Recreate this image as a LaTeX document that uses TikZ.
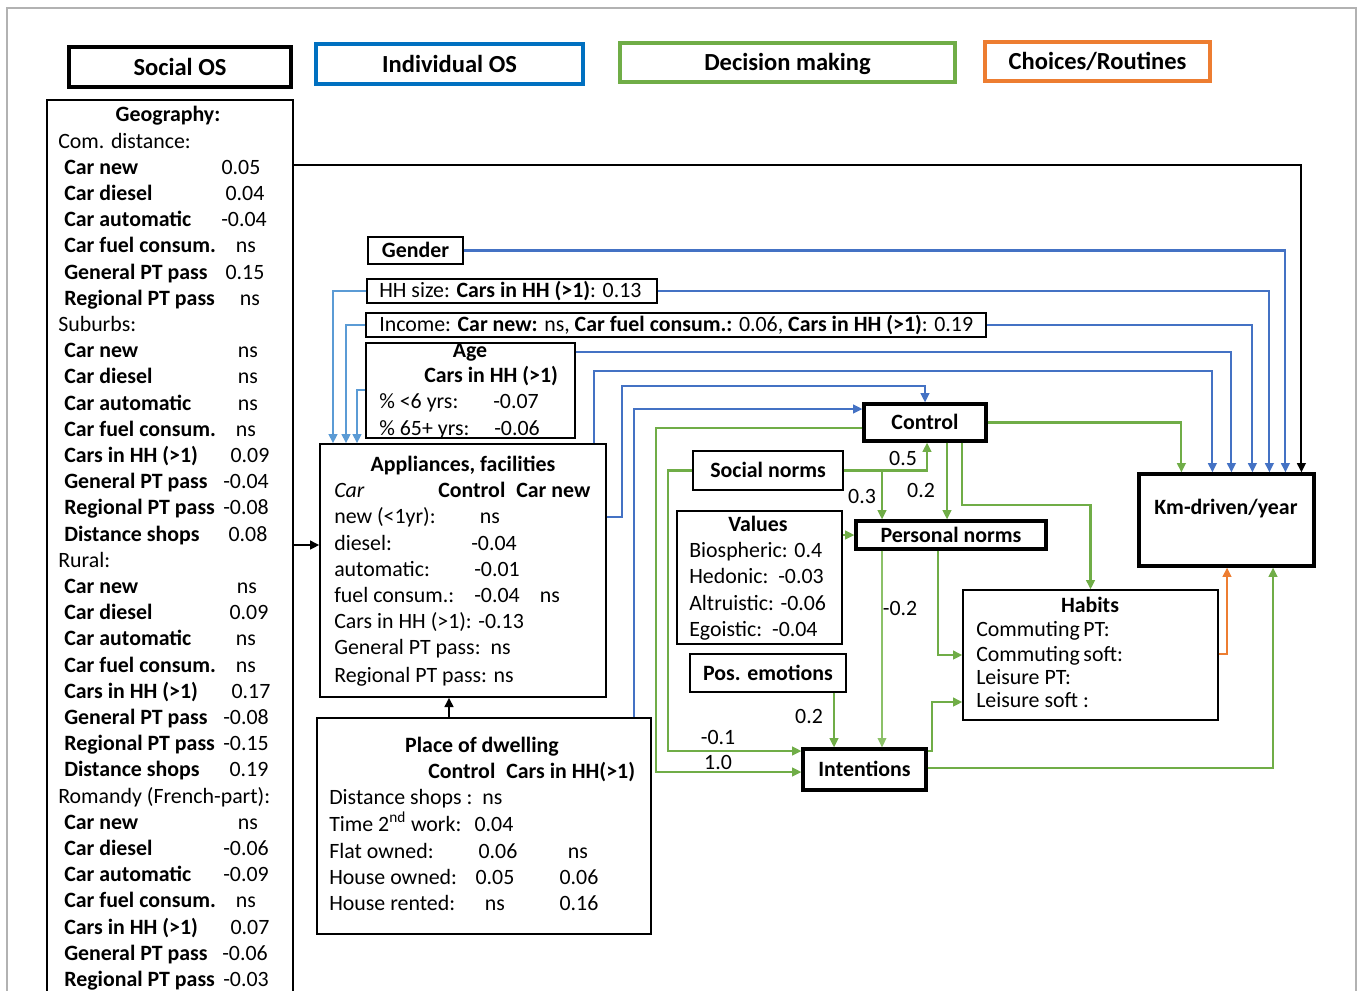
\documentclass[tikz,border=0pt]{standalone}
\usepackage{fontspec}
\setmainfont{Carlito}
\usetikzlibrary{calc,arrows.meta,fit}
\definecolor{cblue}{HTML}{4472C4}
\definecolor{lblue}{HTML}{5B9BD5}
\definecolor{legblue}{HTML}{0070C0}
\definecolor{cgreen}{HTML}{70AD47}
\definecolor{lgreen}{HTML}{8CC168}
\definecolor{corange}{HTML}{ED7D31}
\tikzset{
  bx/.style={draw, line width=1pt, inner sep=0pt, rectangle},
  tbx/.style={draw, line width=2.4pt, inner sep=0pt, rectangle},
  leg/.style={draw, line width=2.6pt, inner sep=0pt, rectangle},
  ctr/.style={anchor=base, inner sep=0pt, font=\fontsize{16.4}{19.7}\selectfont\bfseries},
  legt/.style={anchor=base, inner sep=0pt, font=\fontsize{18.4}{22}\selectfont\bfseries},
  tx/.style={anchor=base west, inner sep=0pt},
  tc/.style={anchor=base, inner sep=0pt},
  lbl/.style={inner sep=0pt},
  con/.style={line width=1.6pt, -{Triangle[length=7pt,width=6.5pt]}},
}
\begin{document}
\begin{tikzpicture}[x=0.75pt,y=-0.75pt,font=\fontsize{16.4}{19.7}\selectfont]
\useasboundingbox (0,0) rectangle (1358,990);
\draw[gray!60, line width=1pt] (7,1000) -- (7,8) -- (1356,8) -- (1356,1000);

% legend
\node[leg, fit={(69,47)(291,87)}] (lsoc) {};
\node[legt] (lsoct) at ($(lsoc.center)+(0,8)$) {Social OS};
\node[leg, draw=legblue, fit={(316,44)(583,84)}] (lind) {};
\node[legt] (lindt) at ($(lind.center)+(0,8)$) {Individual OS};
\node[leg, draw=cgreen, fit={(620,43)(955,82)}] (ldec) {};
\node[legt] (ldect) at ($(ldec.center)+(0,8)$) {Decision making};
\node[leg, draw=corange, fit={(985,42)(1210,81)}] (lcho) {};
\node[legt] (lchot) at ($(lcho.center)+(0,8)$) {Choices/Routines};

% geography
\node[bx, fit={(47,100)(293,1012)}] (geo) {};
\node[tc] (geot) at (168,121) {\bfseries Geography:};
\foreach \i/\lab in {0/Com. distance:,7/Suburbs:,16/Rural:,25/Romandy (French-part):}
  \node[tx] (gh\i) at (58,{148+26.2*\i}) {\lab};
\foreach \i/\lab/\val/\vx in {
  1/Car new/0.05/241, 2/Car diesel/0.04/245, 3/Car automatic/-0.04/244, 4/Car fuel consum./ns/246, 5/General PT pass/0.15/245, 6/Regional PT pass/ns/250,
  8/Car new/ns/248, 9/Car diesel/ns/248, 10/Car automatic/ns/248, 11/Car fuel consum./ns/246, 12/Cars in HH (>1)/0.09/250, 13/General PT pass/-0.04/246, 14/Regional PT pass/-0.08/246, 15/Distance shops/0.08/248,
  17/Car new/ns/247, 18/Car diesel/0.09/249, 19/Car automatic/ns/246, 20/Car fuel consum./ns/246, 21/Cars in HH (>1)/0.17/251, 22/General PT pass/-0.08/246, 23/Regional PT pass/-0.15/246, 24/Distance shops/0.19/249,
  26/Car new/ns/248, 27/Car diesel/-0.06/246, 28/Car automatic/-0.09/246, 29/Car fuel consum./ns/246, 30/Cars in HH (>1)/0.07/250, 31/General PT pass/-0.06/245, 32/Regional PT pass/-0.03/246}
{
  \node[tx] (gl\i) at (64,{148+26.2*\i}) {\bfseries \lab};
  \node[tc] (gv\i) at (\vx,{148+26.2*\i}) {\val};
}

% individual OS boxes
\node[bx, fit={(368,237)(463,264)}] (gender) {};
\node[ctr] (gendert) at ($(gender.center)+(0,7)$) {Gender};
\node[bx, fit={(367,279)(657,303)}] (hh) {};
\node[tx] (hht) at (379,297) {HH size: \textbf{Cars in HH (>1)}: 0.13};
\node[bx, fit={(366,313)(986,337)}] (inc) {};
\node[tx] (inct) at (379,331) {Income: \textbf{Car new:} ns, \textbf{Car fuel consum.:} 0.06, \textbf{Cars in HH (>1)}: 0.19};
\node[bx, fit={(366,343)(575,438)}] (age) {};
\node[tc] (aget) at (470,357) {\bfseries Age};
\node[tx] (agec) at (424,382) {\bfseries Cars in HH (>1)};
\node[tx] (age1) at (379,408) {\% <6 yrs:};
\node[tc] (age1v) at (516,408) {-0.07};
\node[tx] (age2) at (379,435) {\% 65+ yrs:};
\node[tc] (age2v) at (517,435) {-0.06};

% appliances
\node[bx, fit={(320,444)(606,697)}] (app) {};
\node[tc] (appt) at (463,471) {\bfseries Appliances, facilities};
\node[tx] (appc) at (334,497) {\itshape Car};
\node[tx] (apph) at (438,497) {\bfseries Control\enspace Car new};
\node[tx] (app1) at (334,523) {new (<1yr):};
\node[tc] (app1v) at (490,523) {ns};
\node[tx] (app2) at (334,550) {diesel:};
\node[tc] (app2v) at (494,550) {-0.04};
\node[tx] (app3) at (334,576) {automatic:};
\node[tc] (app3v) at (497,576) {-0.01};
\node[tx] (app4) at (334,602) {fuel consum.:};
\node[tc] (app4v) at (497,602) {-0.04};
\node[tc] (app4w) at (550,602) {ns};
\node[tx] (app5) at (334,628) {Cars in HH (>1): -0.13};
\node[tx] (app6) at (334,654) {General PT pass:\ \ ns};
\node[tx] (app7) at (334,682) {Regional PT pass: ns};

% place of dwelling
\node[bx, fit={(317,718)(651,934)}] (dwell) {};
\node[tc] (dwt) at (482,752) {\bfseries Place of dwelling};
\node[tx] (dwh) at (428,778) {\bfseries Control\enspace Cars in HH(>1)};
\node[tx] (dw1) at (329,804) {Distance shops :\ \ ns};
\node[tx] (dw2) at (329,831) {Time 2\textsuperscript{nd} work:};
\node[tc] (dw2v) at (494,831) {0.04};
\node[tx] (dw3) at (329,858) {Flat owned:};
\node[tc] (dw3v) at (498,858) {0.06};
\node[tc] (dw3w) at (578,858) {ns};
\node[tx] (dw4) at (329,884) {House owned:};
\node[tc] (dw4v) at (495,884) {0.05};
\node[tc] (dw4w) at (579,884) {0.06};
\node[tx] (dw5) at (329,910) {House rented:};
\node[tc] (dw5v) at (495,910) {ns};
\node[tc] (dw5w) at (579,910) {0.16};

% decision making
\node[tbx, fit={(864,404)(986,441)}] (ctrl) {};
\node[ctr] (ctrlt) at ($(ctrl.center)+(0,7)$) {Control};
\node[bx, fit={(693,451)(843,490)}] (sn) {};
\node[ctr] (snt) at ($(sn.center)+(0,7)$) {Social norms};
\node[bx, fit={(677,511)(842,644)}] (val) {};
\node[tc] (valt) at (758,531) {\bfseries Values};
\node[tx] (val1) at (689,557) {Biospheric: 0.4};
\node[tx] (val2) at (689,583) {Hedonic:\ \ -0.03};
\node[tx] (val3) at (689,610) {Altruistic: -0.06};
\node[tx] (val4) at (689,636) {Egoistic:\ \ -0.04};
\node[tbx, fit={(856,521)(1046,549)}] (pn) {};
\node[ctr] (pnt) at ($(pn.center)+(0,7)$) {Personal norms};
\node[bx, fit={(690,654)(846,692)}] (pe) {};
\node[ctr] (pet) at ($(pe.center)+(0,7)$) {Pos. emotions};
\node[tbx, fit={(803,749)(926,790)}] (int) {};
\node[ctr] (intt) at ($(int.center)+(0,7)$) {Intentions};
\node[bx, fit={(963,590)(1218,720)}] (hab) {};
\node[tc] (habt) at (1090,612) {\bfseries Habits};
\node[tx] (hab1) at (976,636) {Commuting\,PT:};
\node[tx] (hab2) at (976,661) {Commuting\,soft:};
\node[tx] (hab3) at (976,684) {Leisure PT:};
\node[tx] (hab4) at (976,707) {Leisure soft :};
\node[tbx, fit={(1139,474)(1314,566)}] (km) {};
\node[ctr] (kmt) at (1226,514) {Km-driven/year};

% black connectors
\draw[con, black] (geo.east |- 0,165) -| ($(km.north west)+(164,0)$);
\draw[con, black] (geo.east |- 0,545) -- (app.west |- 0,545);
\draw[con, black] (dwell.north -| 449,0) -- (app.south -| 449,0);

% blue connectors
\draw[con, cblue] (gender.east) -| ($(km.north west)+(148,0)$);
\draw[con, cblue] (hh.east) -| ($(km.north west)+(132,0)$);
\draw[con, cblue] (inc.east) -| ($(km.north west)+(115,0)$);
\draw[con, cblue] (age.east |- 0,352) -| ($(km.north west)+(94,0)$);
\draw[con, cblue] (app.north -| 594,0) |- (700,371) -| ($(km.north west)+(75,0)$);
\draw[con, cblue] (app.east |- 0,517) -| (622,386) -| (ctrl.north);
\draw[con, cblue] (dwell.north -| 634,0) |- (ctrl.west |- 0,409);
\draw[con, lblue] (hh.west) -| (app.north -| 333,0);
\draw[con, lblue] (inc.west) -| (app.north -| 346,0);
\draw[con, lblue] (age.west |- 0,390) -| (app.north -| 357,0);

% green connectors
\draw[con, cgreen] (ctrl.east) -| ($(km.north west)+(44,0)$);
\draw[con, cgreen] (ctrl.south -| 947,0) -- (pn.north -| 947,0);
\draw[con, cgreen] (ctrl.south -| 962,0) |- (1000,505) -| (hab.north);
\draw[con, cgreen] (sn.east) -| (ctrl.south -| 927,0);
\draw[con, cgreen] (sn.east -| 882,0) -- (pn.north -| 882,0);
\draw[con, cgreen] (val.east |- pn.west) -- (pn.west);
\draw[con, lgreen, line width=1pt] (pn.south -| 882,0) -- (int.north -| 882,0);
\draw[con, cgreen] (pn.south -| 938,0) |- (hab.west |- 0,655);
\draw[con, cgreen] (pe.south -| 834,0) -- (int.north -| 834,0);
\draw[con, cgreen] (sn.west) -| (668,751) -- (int.west |- 0,751);
\draw[con, cgreen] (ctrl.west |- 0,428) -| (656,772) -- (int.west |- 0,772);
\draw[con, cgreen] (int.east |- 0,751) -| (932,702) -- (hab.west |- 0,702);
\draw[con, cgreen] (int.east |- 0,768) -| (km.south -| 1273,0);
\draw[con, corange] (hab.east |- 0,654) -| (km.south -| 1227,0);

% labels
\node[lbl] (l05) at (903,458) {0.5};
\node[lbl] (l03) at (862,496) {0.3};
\node[lbl] (l02a) at (921,490) {0.2};
\node[lbl] (lm02) at (900,608) {-0.2};
\node[lbl] (l02b) at (809,716) {0.2};
\node[lbl] (lm01) at (718,737) {-0.1};
\node[lbl] (l10) at (718,762) {1.0};
\end{tikzpicture}
\end{document}
